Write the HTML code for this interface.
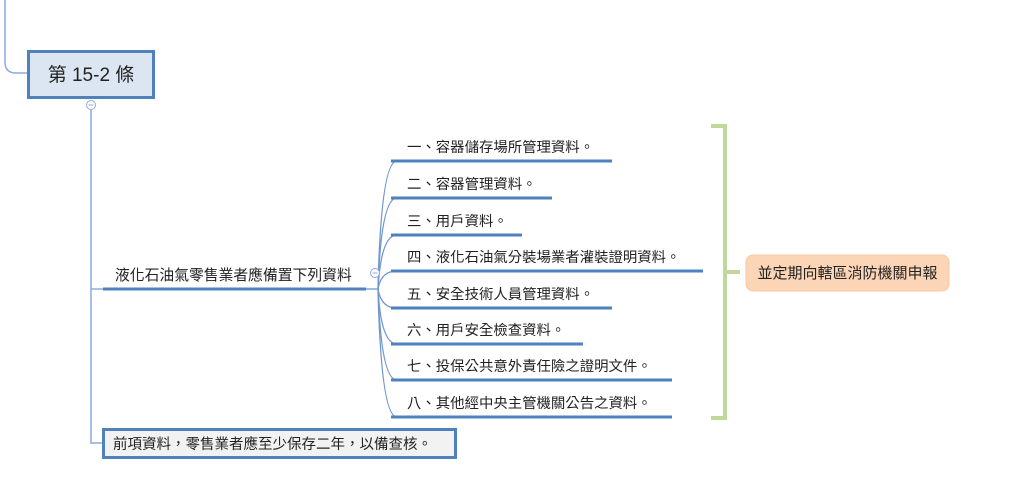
<!DOCTYPE html>
<html><head><meta charset="utf-8"><style>
html,body{margin:0;padding:0;background:#fff;width:1024px;height:478px;overflow:hidden}
text{font-family:"Liberation Sans","Noto Sans CJK TC",sans-serif;fill:#222}
</style></head><body>
<svg width="1024" height="478" xmlns="http://www.w3.org/2000/svg">
<g fill="none" stroke="#8eaadb" stroke-width="1.5">
<path d="M5 0 V62 Q5 73 16 73 H28"/>
<path d="M91 110 V443 H102"/>
<path d="M91 289 H103"/>
</g>
<rect x="28.5" y="51.5" width="125" height="46" fill="#dce6f2" stroke="#4f81bd" stroke-width="3"/>
<text x="91" y="81" font-size="19" text-anchor="middle" fill="#1f3a5f">第 15-2 條</text>
<circle cx="91" cy="105" r="4.5" fill="#fff" stroke="#8eaadb" stroke-width="1"/>
<line x1="88.5" y1="105" x2="93.5" y2="105" stroke="#8eaadb"/>
<line x1="103" y1="289" x2="366" y2="289" stroke="#4f81bd" stroke-width="3"/>
<text x="115" y="280" font-size="14.8">液化石油氣零售業者應備置下列資料</text>
<g fill="none" stroke="#6f96d0" stroke-width="1.3">
<path d="M366 289 H378"/>
<path d="M378 289 Q381 161 397 161"/>
<path d="M378 289 Q381 198 397 198"/>
<path d="M378 289 Q381 235 397 235"/>
<path d="M378 289 Q381 271 397 271"/>
<path d="M378 289 Q381 308 397 308"/>
<path d="M378 289 Q381 344 397 344"/>
<path d="M378 289 Q381 380 397 380"/>
<path d="M378 289 Q381 417 397 417"/>
</g>
<circle cx="375" cy="273" r="4.5" fill="#fff" stroke="#8eaadb" stroke-width="1"/>
<line x1="372.5" y1="273" x2="377.5" y2="273" stroke="#8eaadb"/>
<g stroke="#4f81bd" stroke-width="3">
<line x1="391" y1="161" x2="612" y2="161"/>
<line x1="391" y1="198" x2="552" y2="198"/>
<line x1="391" y1="235" x2="522" y2="235"/>
<line x1="391" y1="271" x2="703" y2="271"/>
<line x1="391" y1="308" x2="612" y2="308"/>
<line x1="391" y1="344" x2="583" y2="344"/>
<line x1="391" y1="380" x2="672" y2="380"/>
<line x1="391" y1="417" x2="672" y2="417"/>
</g>
<g font-size="14.4">
<text x="407" y="152">一、容器儲存場所管理資料。</text>
<text x="407" y="189">二、容器管理資料。</text>
<text x="407" y="226">三、用戶資料。</text>
<text x="407" y="262">四、液化石油氣分裝場業者灌裝證明資料。</text>
<text x="407" y="299">五、安全技術人員管理資料。</text>
<text x="407" y="335">六、用戶安全檢查資料。</text>
<text x="407" y="371">七、投保公共意外責任險之證明文件。</text>
<text x="407" y="408">八、其他經中央主管機關公告之資料。</text>
</g>
<path d="M711 126 H725 V418 H711 M725 272 H740" fill="none" stroke="#c3d69b" stroke-width="4"/>
<rect x="746" y="255" width="203" height="36" rx="7" fill="#fbd5b5" stroke="#f5c9a6"/>
<text x="847.5" y="278" font-size="15" text-anchor="middle">並定期向轄區消防機關申報</text>
<rect x="103.5" y="429.5" width="352" height="28" fill="#f2f2f2" stroke="#4f81bd" stroke-width="3"/>
<text x="113" y="449" font-size="14.5">前項資料，零售業者應至少保存二年，以備查核。</text>
</svg>
</body></html>
